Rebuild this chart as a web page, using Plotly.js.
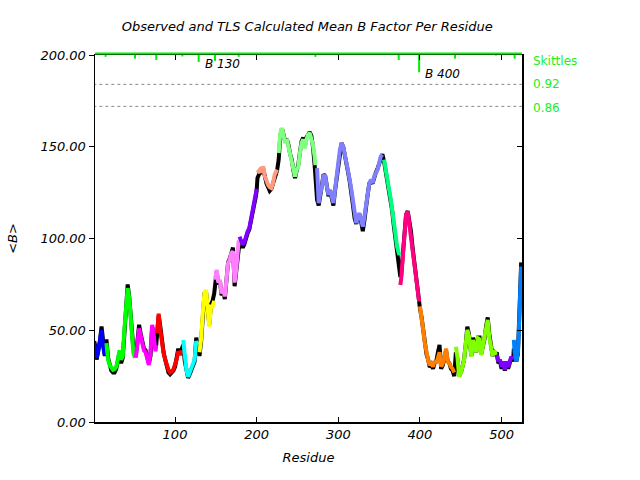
<!DOCTYPE html>
<html>
<head>
<meta charset="utf-8">
<script src="https://cdn.plot.ly/plotly-3.0.1.min.js"></script>
<style>html,body{margin:0;padding:0;background:#fff}#chart{width:640px;height:480px}</style>
</head>
<body>
<div id="chart"></div>
<script>
// Residue numbers sampled along the chain
const residues = [1,2,4,6,8,10,12,14,15,16,18,20,22,24,26,28,30,32,34,36,38,40,42,44,46,47,49,51,
52,54,56,58,60,62,64,66,68,70,72,74,76,77,78,80,82,84,86,88,90,92,94,96,98,100,102,104,106,108,
110,112,114,116,118,120,122,124,126,128,130,132,134,136,138,140,142,144,146,148,
149,151,153,155,157,159,161,163,165,167,169,171,173,175,177,178,
179,181,183,185,187,189,191,193,195,197,199,200,
201,204,206,208,210,212,214,216,218,220,222,225,
227,229,231,233,235,237,239,241,243,245,247,249,251,253,255,257,259,261,263,265,267,269,271,272,
274,276,278,280,282,284,286,288,290,292,294,296,298,300,302,304,306,308,310,312,314,316,318,320,
322,324,326,328,330,332,334,336,338,340,342,344,346,348,350,352,354,
356,358,360,362,364,366,368,370,372,374,375,
376,377,379,381,383,385,387,389,391,393,395,397,399,
400,402,404,406,408,410,412,414,416,418,420,422,424,426,428,430,432,434,436,438,440,442,
444,446,448,451,454,456,458,460,463,465,467,469,471,473,475,477,479,481,483,485,487,489,491,493,
494,496,498,500,502,504,506,508,510,512,514,
515,516,518,520,521,522,523,524];

// TLS calculated mean B
const calcB = [43,41,35,38.6,44.7,50,41,36.5,40,43,34,31,29.5,28.4,28.7,30,34,39,34,36,50.4,66,73,67.6,55.6,48.4,37.5,35,
35,43,51,47,43,39,38,35,31,38,53,47,38.6,42,48.4,59,50,41,37.5,34,30,28.4,27,27.5,28.7,31,34,38.6,36.5,39,
44.7,34,28.4,24.7,27,29,31,34,44,42,38,45.6,59.4,70,72,59.4,52,63,63,66,
77.5,83,76,77.5,70,73,68.4,79,86.6,88.4,92,93,76,83,93.8,99,
101,99.3,96.6,98,102,104,105.6,110,114.7,119.3,123,127,
135.7,137.5,136,139.3,134,131,129.3,128,127.5,130,134.7,137.5,
146.6,157.5,160.2,156,152,154,150,145.7,143,137.5,133.8,137.5,139,146.6,152,154,149,154,156.6,157.5,155,151,144.7,140,
138.4,119.3,124.8,128.4,134.7,133.8,128.4,123.8,126.6,123,119.3,126.6,133.8,143,148.4,152,150,145.7,140,136.6,132,126.6,119.3,112,
108.4,112,113.8,110,106.5,112,119.3,124.8,130.2,132,130.2,133.8,135.7,137.5,141,144.7,145.7,
143,138.4,133.8,128.4,122,115.7,108.4,101,95.6,92,91,
74.7,78,90,104.7,113,114.7,108,103,93.8,86.6,79.3,72,65.6,
63,57.5,50.2,43,37.5,33.8,31,32,30.2,33,32,35.6,38,30.2,32,35.6,40,33,32,30,29,27,
41,35,24.7,28,33.8,41,50.2,47,35.6,44.7,41,38,45.6,45,36.5,41,45,50.2,55.6,46,39.3,36,39,36.5,
36.5,33,34,30.2,33,28.4,33,30,33,35.6,34,
44.7,38,33,38,48.4,61,77.5,84.7];

// Observed mean B
const obsB = [44,42,34,38,44,52,42,36,41,45,35,30,28,27,27,29,33,38,32,35,48,64,75,68,58,50,40,37,
36,44,53,48,44,40,39,36,32,36,52,48,40,42,47,58,52,43,38,34,29,27,26,27,28,30,34,40,37,40,
42,33,27,24,26,28,30,33,46,41,36,44,58,70,71,60,53,64,66,70,
76,82,75,77,69,72,67,78,87,89,93,95,74,82,94,98,
98,97,95,97,101,103,105,109,114,119,123,126,
133,136,136,138,133,130,128,126,127,130,134,137,
143,156,160,157,153,154,151,146,143,137,133,137,140,147,153,155,150,155,157,158,156,150,140,131,
121,118,124,128,135,134,128,123,126,122,118,126,133,142,148,152,150,146,140,136,131,126,118,111,
108,112,113,109,104,110,119,124,130,131,130,134,136,138,141,144,146,
142,137,133,127,121,115,107,100,94,86,80,
79,80,90,104,113,115,110,104,95,87,80,72,64,
62,57,50,43,37,34,30,31,29,32,33,38,42,29,31,35,39,33,32,29,28,25,
38,34,25,28,34,42,52,48,36,46,42,38,46,46,37,41,45,52,57,48,40,36,38,37,
38,32,33,29,32,28,32,29,32,35,33,
40,38,33,37,47,60,77,87];

// TLS groups: first residue of each group and its colour
const groupStart = [1,16,52,78,109,130,149,179,201,227,273,356,376,400,444,494,515];
const groupColor = ['#0000ff','#00ff00','#ff00ff','#ff0000','#00ffff','#ffff00','#ff80ff','#8000ff',
  '#ff9980','#80ff80','#8080ff','#00ff80','#ff0080','#ff8000','#80ff00','#8000ff','#0080ff'];

// Skittles marks along the top
const skitRes = [15,51,77,109,129,149,178,272,374,399,443,493,516];
const skitLow = [199,198,197.3,199.2,196.2,196.8,199,199,197.3,190.6,198,199.7,198];
const skitLabels = [{res:129, text:'B 130'}, {res:399, text:'B 400'}];

const thresholds = [184, 172];
const thresholdLabels = ['0.92', '0.86'];

const xTicks = [100, 200, 300, 400, 500];
const yTicks = [0, 50, 100, 150, 200];

const F = 'DejaVu Sans, sans-serif';
const traces = [];

traces.push({x: residues, y: obsB, mode:'lines', line:{color:'#000', width:4}, hoverinfo:'skip', showlegend:false});

for (let g = 0; g < groupStart.length; g++) {
  const lo = groupStart[g];
  const hi = g + 1 < groupStart.length ? groupStart[g+1] : 1e9;
  const xs = [], ys = [];
  for (let i = 0; i < residues.length; i++) {
    if (residues[i] >= lo && residues[i] < hi) { xs.push(residues[i]); ys.push(calcB[i]); }
  }
  traces.push({x: xs, y: ys, mode:'lines', line:{color: groupColor[g], width:4}, hoverinfo:'skip', showlegend:false});
}

// threshold dotted lines
thresholds.forEach(t => {
  traces.push({x:[0, 530], y:[t, t], mode:'lines', line:{color:'#888', width:1, dash:'dot'}, hoverinfo:'skip', showlegend:false});
});

// skittles ticks
const sx = [], sy = [];
skitRes.forEach((r, i) => { sx.push(r, r, null); sy.push(200.5, skitLow[i], null); });
traces.push({x: sx, y: sy, mode:'lines', line:{color:'#00ee00', width:2}, hoverinfo:'skip', showlegend:false});

// invisible trace for right axis
traces.push({x:[residues[0]], y:[calcB[0]], yaxis:'y2', mode:'markers', marker:{opacity:0}, hoverinfo:'skip', showlegend:false});

const annotations = [];
skitLabels.forEach(s => {
  const i = skitRes.indexOf(s.res);
  annotations.push({x: s.res + 5, y: skitLow[i] - 1, xref:'x', yref:'y', text: '<i>' + s.text + '</i>', showarrow:false,
    xanchor:'left', yanchor:'middle', font:{family:F, size:12, color:'#000'}});
});
annotations.push({x:1.02, y:196.5, xref:'paper', yref:'y', text:'Skittles', showarrow:false, xanchor:'left', yanchor:'middle',
  font:{family:F, size:12, color:'#22ee22'}});
thresholds.forEach((t, i) => {
  annotations.push({x:1.02, y:t + (i === 0 ? 0 : -1), xref:'paper', yref:'y', text: thresholdLabels[i], showarrow:false,
    xanchor:'left', yanchor:'middle', font:{family:F, size:12, color:'#22ee22'}});
});

const tf = {family:F, size:13, color:'#000'};
const layout = {
  width:640, height:480,
  margin:{l:95, r:118, t:55, b:58},
  paper_bgcolor:'#fff', plot_bgcolor:'#fff',
  title:{text:'<i>Observed and TLS Calculated Mean B Factor Per Residue</i>', x:0.48, xanchor:'center', y:0.944, yanchor:'middle',
    font:{family:F, size:13, color:'#000'}},
  xaxis:{range:[2, 525], tickvals:xTicks, ticktext:xTicks.map(v => '<i>' + v + '</i>'),
    ticks:'inside', ticklen:5, tickcolor:'#000', showline:true, linecolor:'#000', linewidth:1.5, mirror:'ticks',
    showgrid:false, zeroline:false, tickfont:tf,
    title:{text:'<i>Residue</i>', font:tf, standoff:12}},
  yaxis:{range:[0, 200], tickvals:yTicks, ticktext:yTicks.map(v => '<i>' + v.toFixed(2) + '</i>'),
    ticks:'outside', ticklen:5, tickcolor:'#000', showline:true, linecolor:'#000', linewidth:1.5, mirror:true,
    showgrid:false, zeroline:false, tickfont:tf,
    title:{text:'<i>&lt;B&gt;</i>', font:tf, standoff:20}},
  yaxis2:{range:[0,200], overlaying:'y', side:'right', tickvals:yTicks, ticks:'inside', ticklen:5, tickcolor:'#000',
    showticklabels:false, showline:false, showgrid:false, zeroline:false},
  shapes:[{type:'line', xref:'paper', yref:'paper', x0:0, x1:1, y0:1.004, y1:1.004, line:{color:'#00ee00', width:2}}],
  annotations: annotations
};

Plotly.newPlot('chart', traces, layout, {staticPlot:true});
</script>
</body>
</html>
